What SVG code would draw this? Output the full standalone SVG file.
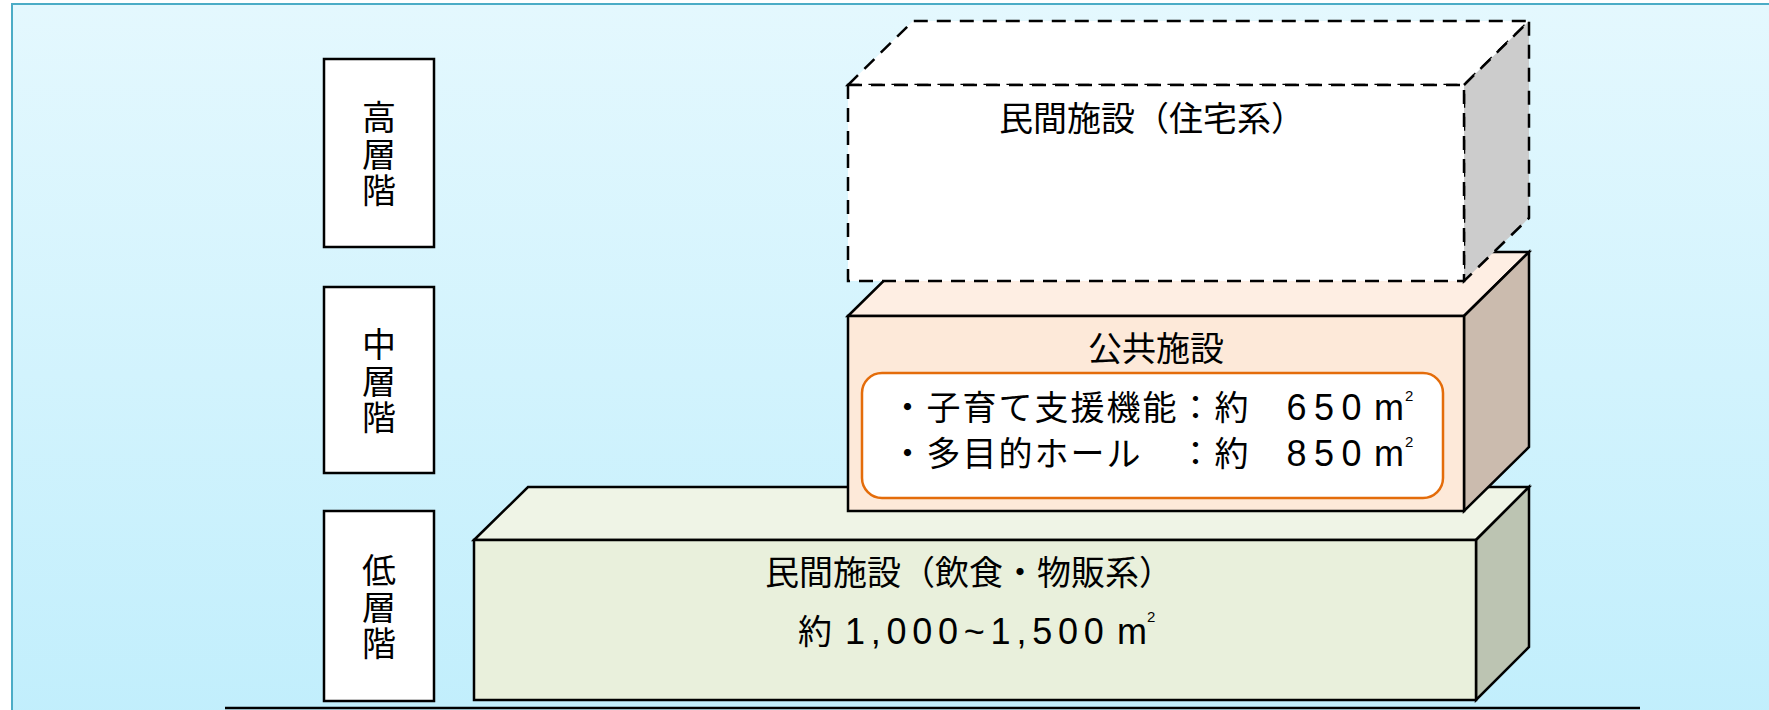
<svg xmlns="http://www.w3.org/2000/svg" width="1769" height="710" viewBox="0 0 1769 710">
  <defs>
    <linearGradient id="bg" x1="0" y1="0" x2="0" y2="1">
      <stop offset="0" stop-color="#e4f8fe"/>
      <stop offset="1" stop-color="#c0eefc"/>
    </linearGradient>
  </defs>
  <style>
    .cjk { font-family: "Noto Sans CJK JP", "Noto Sans CJK SC", sans-serif; font-size: 34px; fill: #000; }
    .vert { font-family: "Noto Sans CJK JP", "Noto Sans CJK SC", sans-serif; font-size: 34px; fill: #000; writing-mode: vertical-rl; text-anchor: middle; letter-spacing: 2.5px; }
    .num { font-family: "Liberation Sans", Arial, sans-serif; font-size: 36px; fill: #000; }
    .sup { font-family: "Liberation Sans", Arial, sans-serif; font-size: 15px; fill: #000; }
    .edge { stroke: #000; stroke-width: 2.5; stroke-linejoin: miter; }
    .dash { stroke: #000; stroke-width: 2.5; stroke-dasharray: 14 9; }
    .label { fill: #fff; stroke: #000; stroke-width: 2.5; }
  </style>

  <rect x="0" y="0" width="1769" height="710" fill="#ffffff"/>
  <rect id="frame" x="12" y="4" width="1780" height="740" fill="url(#bg)" stroke="#4bacc6" stroke-width="2"/>

  <g id="ground">
    <line x1="225" y1="708" x2="1640" y2="708" stroke="#000" stroke-width="2.5"/>
  </g>

  <g id="label-high">
    <rect class="label" x="324" y="59" width="110" height="188"/>
    <text class="vert" x="379" y="155">高層階</text>
  </g>
  <g id="label-mid">
    <rect class="label" x="324" y="287" width="110" height="186"/>
    <text class="vert" x="379" y="382">中層階</text>
  </g>
  <g id="label-low">
    <rect class="label" x="324" y="511" width="110" height="190"/>
    <text class="vert" x="379" y="608">低層階</text>
  </g>

  <g id="block-commercial">
    <polygon class="edge" points="474,540 528,487 1529,487 1476,540" fill="#eff4e6"/>
    <polygon class="edge" points="1476,540 1529,487 1529,647 1476,700" fill="#bcc4b2"/>
    <rect class="edge" x="474" y="540" width="1002" height="160" fill="#e9f0dc"/>
    <text class="cjk" x="765" y="585">民間施設（飲食・物販系）</text>
    <text y="644"><tspan class="cjk" x="798">約</tspan><tspan class="num" x="845" letter-spacing="5.75">1,000~1,500</tspan><tspan class="num" x="1117" letter-spacing="0">m</tspan><tspan class="sup" x="1147" y="622">2</tspan></text>
  </g>

  <g id="block-public">
    <polygon class="edge" points="848,316 913,252 1529,252 1464,316" fill="#feeee3"/>
    <polygon class="edge" points="1464,316 1529,252 1529,447 1464,511" fill="#cbbbae"/>
    <rect class="edge" x="848" y="316" width="616" height="195" fill="#fde9d9"/>
    <text class="cjk" x="1088" y="361">公共施設</text>
    <rect x="862" y="373" width="581" height="125" rx="20" ry="20" fill="#ffffff" stroke="#e46c0a" stroke-width="2.5"/>
    <text y="420"><tspan class="cjk" x="890.5" letter-spacing="2">・子育て支援機能：約</tspan><tspan class="num" x="1286.5" letter-spacing="7.5">650</tspan><tspan class="num" x="1374" letter-spacing="0">m</tspan><tspan class="sup" x="1405" y="401">2</tspan></text>
    <text y="466"><tspan class="cjk" x="890.5" letter-spacing="2">・多目的ホール　：約</tspan><tspan class="num" x="1286.5" letter-spacing="7.5">850</tspan><tspan class="num" x="1374" letter-spacing="0">m</tspan><tspan class="sup" x="1405" y="447">2</tspan></text>
  </g>

  <g id="block-residential">
    <polygon class="dash" points="848,85 913,21 1529,21 1464,85" fill="#ffffff"/>
    <polygon class="dash" points="1464,85 1529,21 1529,218 1464,281" fill="#cccccc"/>
    <rect class="dash" x="848" y="85" width="616" height="196" fill="#ffffff"/>
    <text class="cjk" x="999" y="131">民間施設（住宅系）</text>
  </g>

  <g id="connectors"/>
</svg>
